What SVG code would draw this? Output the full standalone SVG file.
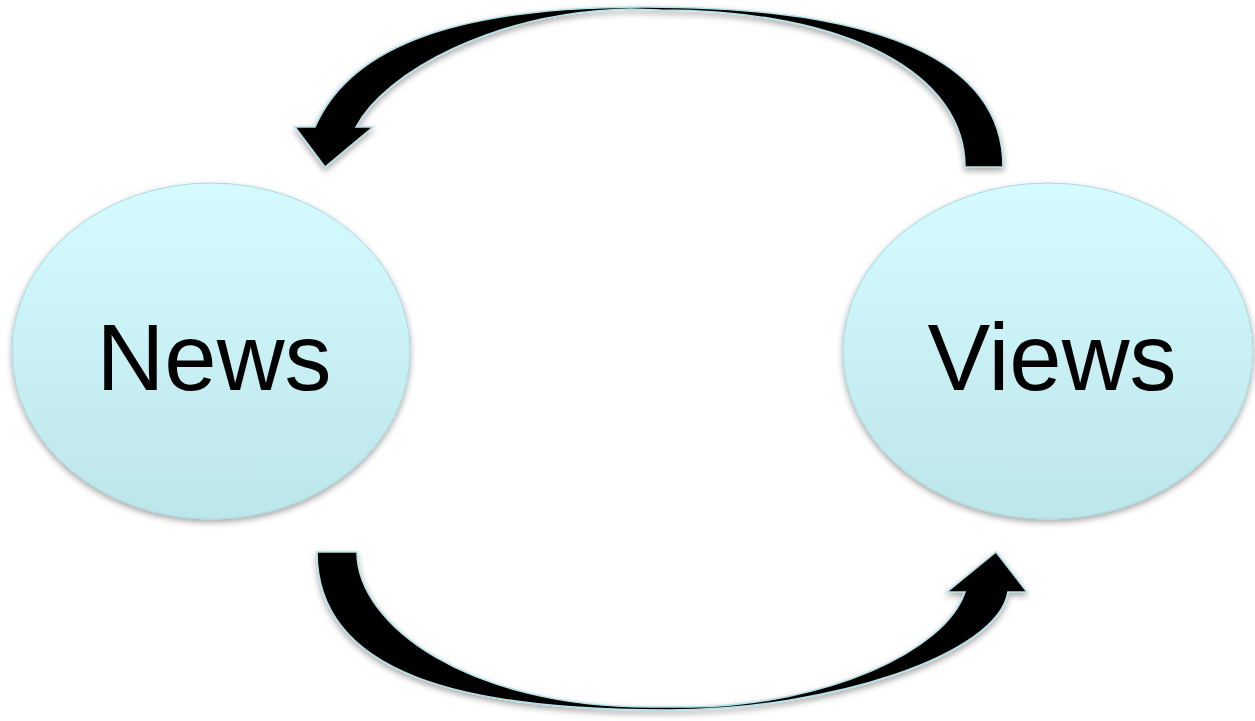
<svg xmlns="http://www.w3.org/2000/svg" width="1255" height="721" viewBox="0 0 1255 721">
  <defs>
    <linearGradient id="bubbleFill" x1="0" y1="0" x2="0" y2="1">
      <stop offset="0" stop-color="#d5fbfe"/>
      <stop offset="1" stop-color="#bde6ea"/>
    </linearGradient>
    <filter id="softShadow" x="-10%" y="-10%" width="120%" height="125%">
      <feDropShadow dx="0" dy="3" stdDeviation="3" flood-color="#000" flood-opacity="0.35"/>
    </filter>
    <style>
      .bubble { fill: url(#bubbleFill); stroke: #a8d8dd; stroke-width: 1; filter: url(#softShadow); }
      .label { font-family: "Liberation Sans", Arial, sans-serif; font-size: 94px; fill: #000; text-anchor: middle; }
      .arrow { fill: #000; stroke: #b4e0e6; stroke-width: 1.6; stroke-linejoin: miter; filter: url(#softShadow); }
    </style>
  </defs>

  <rect width="1255" height="721" fill="#fff"/>

  <g id="connectors">
    <!-- Views to News: curved arrow over the top -->
    <path id="arrow-views-news" class="arrow" d="
      M1003,167
      C1003,60 880,7 645,7
      C465,7 352,42 315,127
      L295,127 L325,167 L373,127 L356,127
      C385,72 495,12 630,9
      L660,10
      C850,10 965,75 965,167 Z"/>
    <!-- News to Views: curved arrow along the bottom -->
    <path id="arrow-news-views" class="arrow" d="
      M317,552
      C317,675 465,710 667,710
      C830,710 998,655 1008,592
      L1027,592 L996,552 L947,592 L965,592
      C945,652 825,705 690,707
      L650,707
      C468,707 357,625 357,552 Z"/>
  </g>

  <g id="node-news">
    <ellipse class="bubble" cx="211" cy="351" rx="199" ry="168"/>
    <text class="label" x="214" y="390">News</text>
  </g>

  <g id="node-views">
    <ellipse class="bubble" cx="1048" cy="351" rx="205" ry="168"/>
    <text class="label" x="1052" y="390">Views</text>
  </g>
</svg>
